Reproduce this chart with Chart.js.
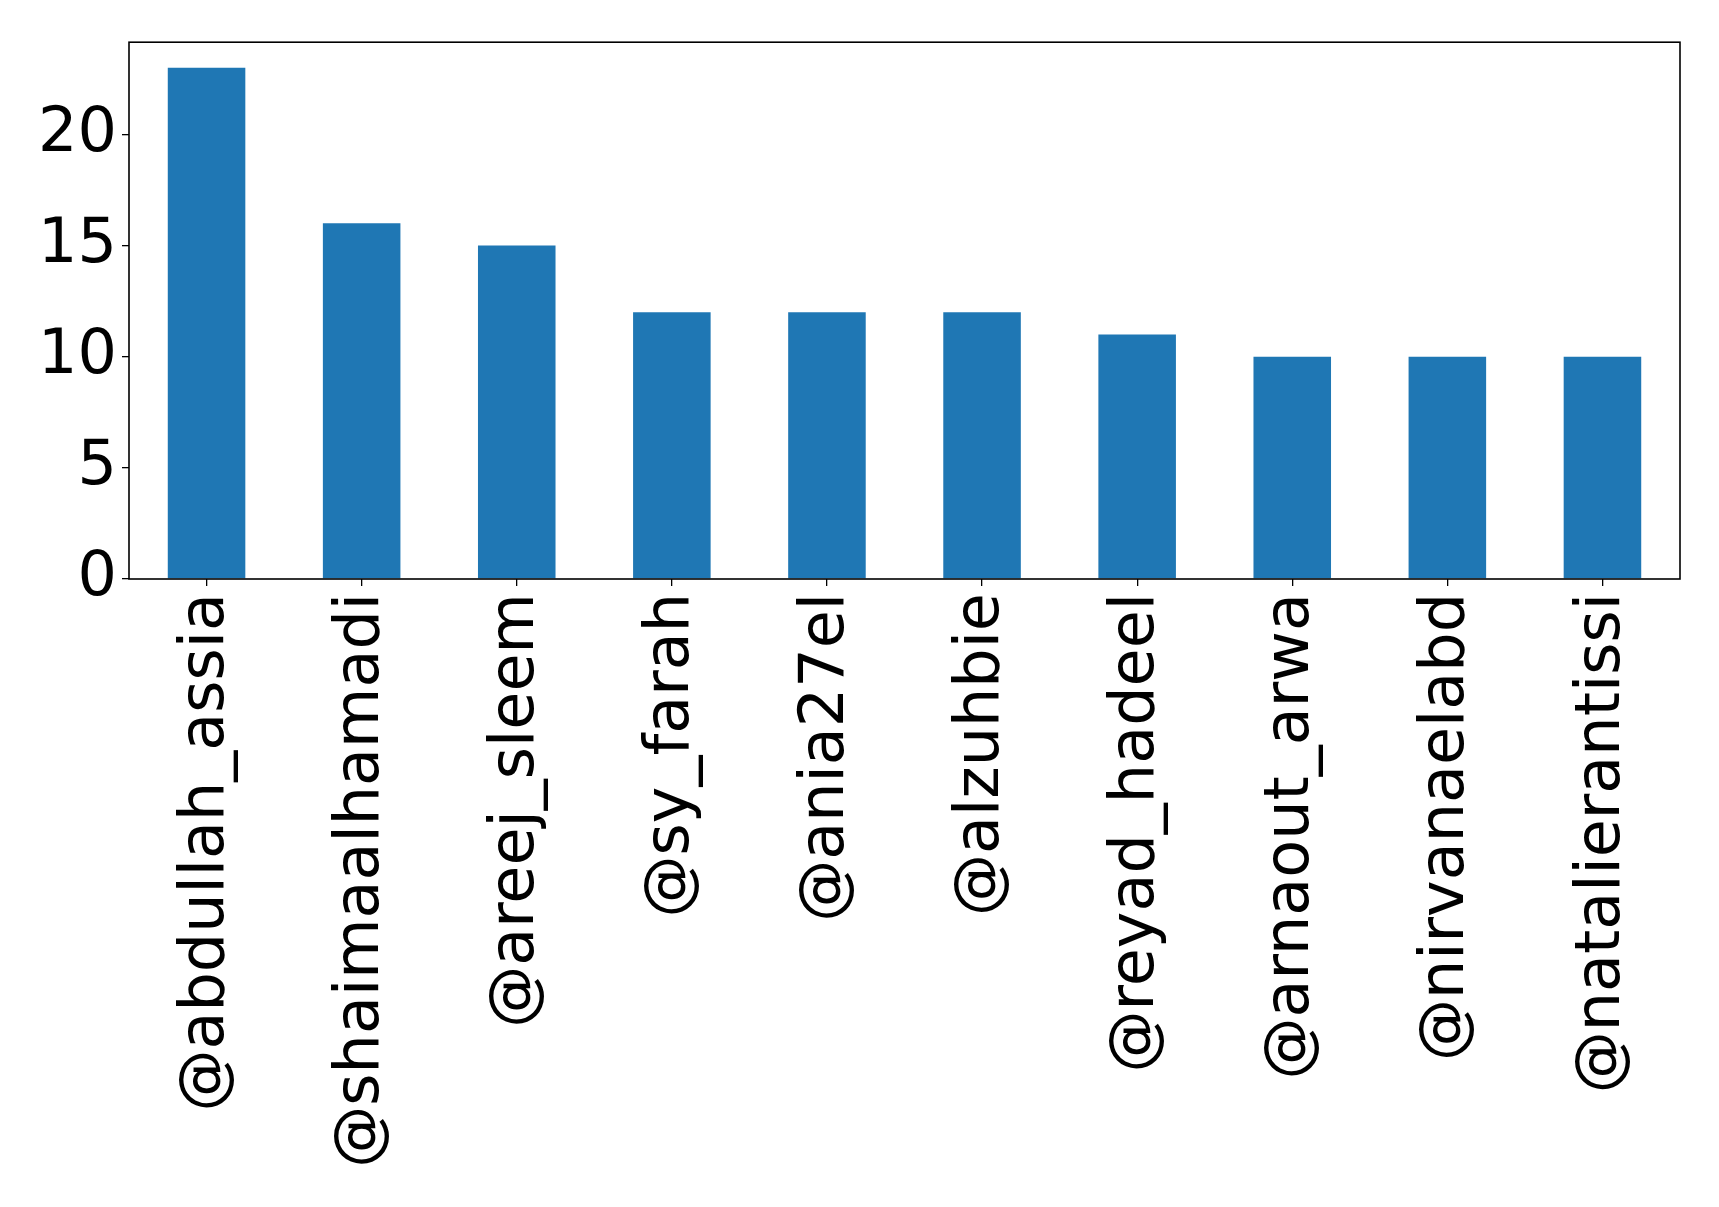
<!DOCTYPE html>
<html>
<head>
<meta charset="utf-8">
<script src="https://cdn.jsdelivr.net/npm/chart.js@4"></script>
<style>
  html, body { margin: 0; padding: 0; background: #fff; }
  #wrap { position: relative; width: 1719px; height: 1207px; }
</style>
</head>
<body>
<div id="wrap"><canvas id="chart"></canvas></div>
<script>
const accounts = ['@abdullah_assia', '@shaimaalhamadi', '@areej_sleem', '@sy_farah', '@ania27el',
                  '@alzuhbie', '@reyad_hadeel', '@arnaout_arwa', '@nirvanaelabd', '@natalierantissi'];
const counts = [23, 16, 15, 12, 12, 12, 11, 10, 10, 10];
const yTicks = [0, 5, 10, 15, 20];

const FONT = { family: 'DejaVu Sans', size: 62 };

// matplotlib-style box around the plot area
const framePlugin = {
    id: 'frame',
    afterDraw(chart) {
        const { ctx, chartArea: a } = chart;
        ctx.save();
        ctx.strokeStyle = '#000';
        ctx.lineWidth = 1.6;
        ctx.strokeRect(a.left, a.top, a.right - a.left, a.bottom - a.top);
        ctx.restore();
    }
};

new Chart(document.getElementById('chart'), {
    type: 'bar',
    data: {
        labels: accounts,
        datasets: [{
            data: counts,
            backgroundColor: '#1f77b4',
            categoryPercentage: 1,
            barPercentage: 0.5
        }]
    },
    options: {
        responsive: true,
        maintainAspectRatio: false,
        animation: false,
        layout: { padding: { left: 0, top: 40, right: 39, bottom: 0 } },
        plugins: { legend: { display: false }, tooltip: { enabled: false } },
        scales: {
            x: {
                grid: { drawOnChartArea: false, offset: false, tickLength: 7, color: '#000', lineWidth: 1.3 },
                border: { display: false },
                ticks: {
                    color: '#000', font: FONT, padding: 7,
                    minRotation: 90, maxRotation: 90, autoSkip: false
                },
                afterFit(scale) { scale.height = 1207 - 579; }
            },
            y: {
                min: 0,
                max: 24.15,
                grid: { drawOnChartArea: false, tickLength: 7, color: '#000', lineWidth: 1.3 },
                border: { display: false },
                ticks: { color: '#000', font: FONT, padding: 5, stepSize: 5 },
                afterBuildTicks(scale) {
                    scale.ticks = yTicks.map(v => ({ value: v }));
                },
                afterFit(scale) { scale.width = 129; }
            }
        }
    },
    plugins: [framePlugin]
});
</script>
</body>
</html>
